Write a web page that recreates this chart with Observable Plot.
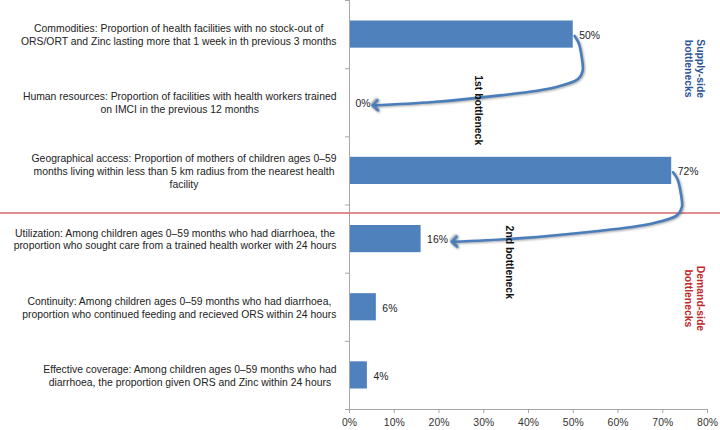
<!DOCTYPE html>
<html><head><meta charset="utf-8">
<script src="https://cdn.jsdelivr.net/npm/d3@7"></script>
<script src="https://cdn.jsdelivr.net/npm/@observablehq/plot@0.6"></script>
<style>
body{margin:0;background:#fff;}
svg{font-family:"Liberation Sans",Arial,sans-serif;}
g.arrow path{filter:drop-shadow(1px 1.5px 1px rgba(0,0,0,0.35));}
</style></head><body><div id="chart"></div>
<script>
const categories = [
  "Commodities: Proportion of health facilities with no stock-out of\nORS/ORT and Zinc lasting more that 1 week in th previous 3 months",
  "Human resources: Proportion of facilities with health workers trained\non IMCI in the previous 12 months",
  "Geographical access: Proportion of mothers of children ages 0–59\nmonths living within less than 5 km radius from the nearest health\nfacility",
  "Utilization: Among children ages 0–59 months who had diarrhoea, the\nproportion who sought care from a trained health worker with 24 hours",
  "Continuity: Among children ages 0–59 months who had diarrhoea,\nproportion who continued feeding and recieved ORS within 24 hours",
  "Effective coverage: Among children ages 0–59 months who had\ndiarrhoea, the proportion given ORS and Zinc within 24 hours"
];
const values = [50, 0, 72, 16, 6, 4];
const xTicks = [0, 10, 20, 30, 40, 50, 60, 70, 80];
const dividerAt = 3;
const arrows = [
  {id: "a1", from: 0, to: 1, tipX: 5.2},
  {id: "a2", from: 2, to: 3, tipX: 22.9}
];
const bottleneckLabels = [
  {text: "1st bottleneck", x: 28.8, y: 1.61},
  {text: "2nd bottleneck", x: 35.8, y: 3.84}
];
const sideLabels = [
  {text: "Supply-side\nbottlenecks", x: 77.1, y: 1.0, color: "#2f5597"},
  {text: "Demand-side\nbottlenecks", x: 77.1, y: 4.37, color: "#c0282d"}
];

const data = categories.map((label, i) => ({label, value: values[i], i}));

// hook shape template for the curved arrows (normalized)
const hook = [[0,0],[-0.02,0.1],[-0.035,0.3],[-0.04,0.5],[-0.017,0.62],[0.1,0.74],[0.37,0.855],[0.7,0.95],[1,1]];
const arrowPts = arrows.flatMap(a => {
  const x0 = values[a.from] + 0.3, y0 = a.from + 0.52;
  const x1 = a.tipX, y1 = a.to + 0.54;
  return hook.map(([u, v]) => ({id: a.id, x: x0 + u * (x1 - x0), y: y0 + v * (y1 - y0)}));
});

function headMarker(color, context) {
  const m = document.createElementNS("http://www.w3.org/2000/svg", "marker");
  m.setAttribute("viewBox", "-10 -10 20 20");
  m.setAttribute("markerWidth", 20);
  m.setAttribute("markerHeight", 20);
  m.setAttribute("markerUnits", "userSpaceOnUse");
  m.setAttribute("orient", "auto");
  const p = document.createElementNS("http://www.w3.org/2000/svg", "path");
  p.setAttribute("d", "M-5,-5L0,0L-5,5");
  p.setAttribute("fill", "none");
  p.setAttribute("stroke", color);
  p.setAttribute("stroke-width", 2.6);
  p.setAttribute("stroke-linecap", "round");
  p.setAttribute("stroke-linejoin", "round");
  m.append(p);
  return m;
}

const FS = 10.4;
const plot = Plot.plot({
  width: 720,
  height: 430,
  marginLeft: 349,
  marginRight: 13,
  marginTop: 0,
  marginBottom: 21,
  style: {fontFamily: "Liberation Sans, Arial, sans-serif", background: "#fff", overflow: "visible"},
  x: {domain: [0, 80]},
  y: {domain: [0, 6], reverse: true},
  marks: [
    Plot.text(data, {x: 0, y: d => d.i + 0.5, text: "label", textAnchor: "end", dx: -13, lineHeight: 1.22, fontSize: FS, fill: "#222"}),
    Plot.rect(data, {x1: 0, x2: "value", y1: "i", y2: d => d.i + 1, insetTop: 20.5, insetBottom: 20.5, fill: "#4f81bd"}),
    Plot.ruleX([0], {y1: 0, y2: 6, stroke: "#a6a6a6"}),
    Plot.ruleY([6], {stroke: "#a6a6a6"}),
    Plot.axisY({ticks: d3.range(0, 7), tickFormat: () => "", tickSize: 4, stroke: "#a6a6a6"}),
    Plot.axisX({ticks: xTicks, tickFormat: d => d + "%", tickSize: 4, tickPadding: 5, stroke: "#a6a6a6", fill: "#333", fontSize: FS}),
    Plot.ruleY([dividerAt], {x1: -78.1, x2: 83, dy: 8, stroke: "#d46a6a", strokeWidth: 1.3}),
    Plot.text(data, {x: "value", y: d => d.i + 0.5, dy: 1, text: d => d.value + "%", textAnchor: "start", dx: 6, fontSize: FS, fill: "#222"}),
    Plot.line(arrowPts, {x: "x", y: "y", z: "id", curve: "catmull-rom", stroke: "#4a7ebb", strokeWidth: 2.6, markerEnd: headMarker}),
    Plot.text(bottleneckLabels, {x: "x", y: "y", text: "text", rotate: 90, fontWeight: "bold", fontSize: FS, fill: "#111"}),
    Plot.text(sideLabels, {x: "x", y: "y", text: "text", rotate: 90, fontWeight: "bold", fontSize: FS, fill: "color", lineHeight: 1.15})
  ]
});
document.getElementById("chart").append(plot);

// center the lines of each category label block, keeping the block right-aligned
const g = plot.querySelector('g[aria-label="text"]');
g.setAttribute("text-anchor", "middle");
g.querySelectorAll("text").forEach(t => {
  const spans = t.querySelectorAll("tspan");
  let w = 0;
  if (spans.length) {
    spans.forEach(s => { w = Math.max(w, s.getComputedTextLength()); });
    spans.forEach(s => s.setAttribute("x", -w / 2));
  } else {
    w = t.getComputedTextLength();
    t.setAttribute("x", -w / 2);
  }
});
plot.querySelectorAll('g[aria-label="line"]').forEach(el => el.classList.add("arrow"));
</script></body></html>
